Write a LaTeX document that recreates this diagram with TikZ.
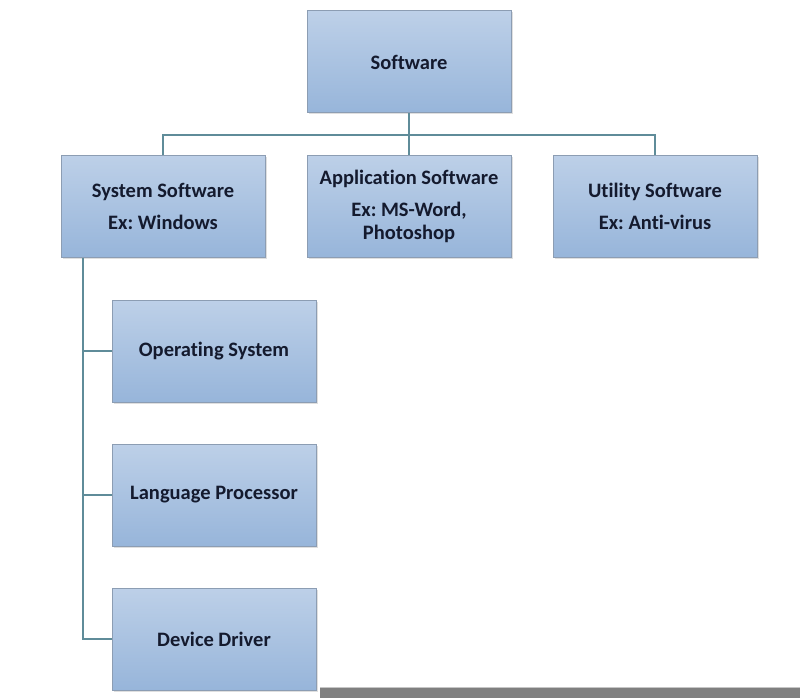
\documentclass[tikz,border=0pt]{standalone}
\usepackage{fontspec}
\setmainfont[Ligatures=NoCommon]{Carlito}
\usetikzlibrary{shadows}
\definecolor{boxtop}{HTML}{BDD0E8}
\definecolor{boxbot}{HTML}{97B5DA}
\definecolor{boxline}{HTML}{8C9DB3}
\definecolor{conn}{HTML}{5F8C99}
\definecolor{txt}{HTML}{141a2e}
\tikzset{
  box/.style={draw=boxline, line width=1pt, top color=boxtop, bottom color=boxbot,
    minimum width=204pt, minimum height=102pt, inner sep=0pt, align=center,
    font=\fontsize{20.5}{23}\selectfont\bfseries\frenchspacing, text=txt,
    drop shadow={shadow xshift=1.5pt, shadow yshift=-1.5pt, opacity=0.25}},
  link/.style={draw=conn, line width=1.2pt}
}
\begin{document}
\begin{tikzpicture}[x=1pt,y=-1pt]
\useasboundingbox (0,0) rectangle (800,698);
\fill[white] (0,0) rectangle (800,698);
\node[box] (sw) at (409,62) {Software};
\node[box] (sys) at (163,206) {System Software\\[9pt]Ex: Windows};
\node[box] (app) at (409,206) {Application Software\\[9pt]Ex: MS-Word,\\Photoshop};
\node[box] (uti) at (655,206) {Utility Software\\[9pt]Ex: Anti-virus};
\node[box] (os) at (214,351) {Operating System};
\node[box] (lp) at (214,495) {Language Processor};
\node[box] (dd) at (214,639) {Device Driver};
\coordinate (bus) at (409,135);
\draw[link] (sw.south) -- (app.north);
\draw[link] (sys.north) |- (bus) -| (uti.north);
\coordinate (trunk) at (83,639);
\draw[link] (sys.south -| trunk) -- (trunk) -- (dd.west);
\draw[link] (os.west -| trunk) -- (os.west);
\draw[link] (lp.west -| trunk) -- (lp.west);
\fill[gray!45] (320,686.5) rectangle (800,688);
\fill[gray] (320,688) rectangle (800,698);
\end{tikzpicture}
\end{document}
